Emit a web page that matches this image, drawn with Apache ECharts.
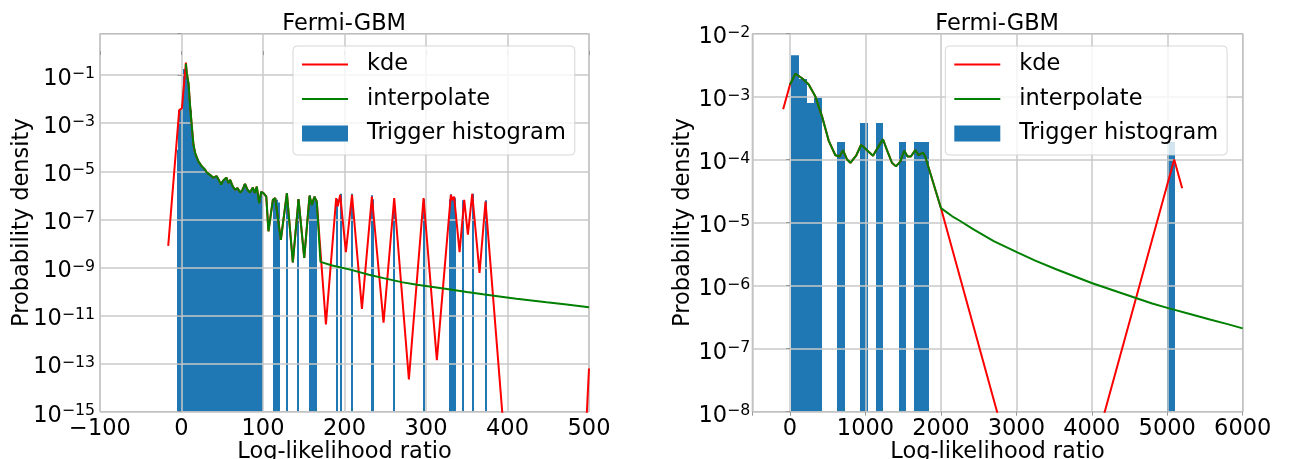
<!DOCTYPE html>
<html>
<head>
<meta charset="utf-8">
<script src="https://cdn.jsdelivr.net/npm/echarts@6/dist/echarts.min.js"></script>
<style>
html,body{margin:0;padding:0;background:#fff;}
#chart{width:1290px;height:459px;}
</style>
</head>
<body>
<div id="chart"></div>
<script>
// ---------------- DATA ----------------
const titles = ['Fermi-GBM', 'Fermi-GBM'];
const xAxisName = 'Log-likelihood ratio';
const yAxisName = 'Probability density';
const seriesNames = ['kde', 'interpolate', 'Trigger histogram'];

// Left panel: x from -100 to 500, density from 1e-15 upward
const leftXTicks = [-100, 0, 100, 200, 300, 400, 500];
const leftYExpTicks = [-15, -13, -11, -9, -7, -5, -3, -1];
const leftBinWidth = 2;
const leftHistEdges = [-6,-4,-2,0,2,4,6,8,10,12,14,16,18,20,22,24,26,28,30,32,34,36,38,40,42,44,46,48,50,52,54,56,58,60,62,64,66,68,70,72,74,76,78,80,82,84,86,88,90,92,94,96,98,
  112,114,116,118,128,142,156,158,160,162,164,190,194,208,232,234,260,296,328,330,332,334,344,356,372];
const leftHistDensity = [7.9e-5,3.5e-3,4.0e-3,2.5e-2,0.18,0.32,8.9e-2,2.5e-2,3.5e-3,5.6e-4,1.1e-4,5.4e-5,3.5e-5,2.5e-5,2.0e-5,1.6e-5,1.3e-5,1.15e-5,9.5e-6,7.9e-6,7.6e-6,6.3e-6,5.4e-6,6.0e-6,6.3e-6,4.5e-6,3.0e-6,3.8e-6,4.0e-6,4.5e-6,5.4e-6,3.3e-6,4.4e-6,3.2e-6,2.3e-6,1.8e-6,1.9e-6,2.0e-6,1.4e-6,1.5e-6,1.8e-6,2.8e-6,2.5e-6,1.7e-6,1.4e-6,1.6e-6,2.1e-6,1.4e-6,2.0e-6,2.2e-6,5.0e-7,1.4e-6,1.26e-6,
  6.0e-7,7.6e-7,6.6e-7,5.0e-7,1.23e-6,6.9e-7,1.0e-6,5.0e-7,5.0e-7,8.9e-7,5.6e-7,7.1e-7,1.15e-6,1.15e-6,1.0e-6,6.9e-7,6.9e-7,6.9e-7,6.9e-7,1.1e-6,6.9e-7,7.9e-7,6.3e-7,1.15e-6,6.3e-7];

const leftInterpX = [5.3,6.5,8.6,10.6,12.7,14.7,16.8,20.9,25,29,31,35,39,43,46,48.5,51,53,55,57.7,59.7,63,66,68.7,72,74.8,78,81,84,87.5,90,92.4,95.3,97.8,100.6,104,106.7,112.1,115,117,121.9,129.3,136.6,143.6,150.6,157.1,160,163,166,170.5,
  185,207,230,248,270,289,330,350,370,390,411,448,470,500];
const leftInterpY = [0.30,0.117,4.5e-2,4.9e-3,7.2e-4,1.26e-4,5.6e-5,2.5e-5,1.6e-5,1.15e-5,8.9e-6,7.1e-6,5.4e-6,6.3e-6,4.2e-6,2.8e-6,4.0e-6,3.5e-6,5.4e-6,3.2e-6,4.4e-6,2.3e-6,1.7e-6,2.0e-6,1.3e-6,1.7e-6,3.0e-6,1.7e-6,1.3e-6,2.1e-6,1.26e-6,2.3e-6,4.7e-7,1.4e-6,1.23e-6,8.9e-7,3.2e-8,6.5e-7,7.6e-7,6.3e-7,1.4e-8,1.23e-6,1.6e-9,6.9e-7,2.5e-9,9.5e-7,4.0e-7,8.7e-7,5.5e-7,1.7e-9,
  1.2e-9,8.1e-10,5.0e-10,3.6e-10,2.45e-10,1.9e-10,1.2e-10,9.5e-11,7.6e-11,6.2e-11,5.0e-11,3.55e-11,2.95e-11,2.2e-11];

const leftKdeX = [-16.3,-2.8,0.5,5.4,6.5,8.6,10.6,12.7,14.7,16.8,20.9,25,29,31,35,39,43,46,48.5,51,53,55,57.7,59.7,63,66,68.7,72,74.8,78,81,84,87.5,90,92.4,95.3,97.8,100.6,104,106.7,112.1,115,117,121.9,129.3,136.6,143.6,150.6,157.1,160,163,166,
  177.2,189.8,191.8,194.7,201.7,209.2,221.4,233.6,247.9,261,279,297,313.3,330.5,332.6,334.5,341.2,346.9,351.4,356.7,365.7,373,393.5,430,470,497.4,500];
const leftKdeY = [7.9e-9,3.5e-3,4.2e-3,0.33,0.117,4.5e-2,4.9e-3,7.2e-4,1.26e-4,5.6e-5,2.5e-5,1.6e-5,1.15e-5,8.9e-6,7.1e-6,5.4e-6,6.3e-6,4.2e-6,2.8e-6,4.0e-6,3.5e-6,5.4e-6,3.2e-6,4.4e-6,2.3e-6,1.7e-6,2.0e-6,1.3e-6,1.7e-6,3.0e-6,1.7e-6,1.3e-6,2.1e-6,1.26e-6,2.3e-6,4.7e-7,1.4e-6,1.23e-6,8.9e-7,3.2e-8,6.5e-7,7.6e-7,6.3e-7,1.4e-8,1.23e-6,1.6e-9,6.9e-7,2.5e-9,9.5e-7,4.0e-7,8.7e-7,5.5e-7,
  4.3e-12,7.6e-7,3.5e-7,1.05e-6,4.3e-9,1.05e-6,1.9e-11,8.9e-7,5.0e-12,7.6e-7,2.2e-14,7.6e-7,1.4e-13,1.05e-6,6.3e-7,8.9e-7,4.3e-9,6.5e-7,2.3e-8,1.15e-6,5.9e-10,5.5e-7,1e-15,1e-21,1e-21,1e-15,6.3e-14];

// Right panel: x from -500 to 6000, density 1e-8 .. 1e-2
const rightXTicks = [0, 1000, 2000, 3000, 4000, 5000, 6000];
const rightYExpTicks = [-8, -7, -6, -5, -4, -3, -2];
const rightBinWidth = 101.6;
const rightHistEdges = [18, 119.6, 221.2, 322.8, 627.6, 932.4, 1135.6, 1440.4, 1643.6, 1745.2, 4996];
const rightHistDensity = [4.5e-3, 1.9e-3, 7.9e-4, 9.6e-4, 1.9e-4, 3.8e-4, 3.8e-4, 1.9e-4, 1.9e-4, 1.9e-4, 1.9e-4];

const rightInterpX = [0,71,160,248,336,425,512,601,658,703,756,800,879,941,976,1020,1100,1174,1232,1285,1351,1404,1461,1514,1558,1602,1660,1704,1761,1792,
  2000,2150,2250,2432,2700,3006,3250,3535,3998,4300,4594,4800,5013,5300,5565,5800,6000];
const rightInterpY = [1.55e-3,2.3e-3,1.95e-3,1.55e-3,1.0e-3,4.8e-4,2.0e-4,1.17e-4,1.12e-4,1.41e-4,1.0e-4,8.9e-5,1.17e-4,1.7e-4,1.58e-4,1.41e-4,1.15e-4,1.62e-4,2.1e-4,1.41e-4,8.9e-5,7.8e-5,9.3e-5,1.38e-4,1.12e-4,1.12e-4,1.41e-4,1.17e-4,1.29e-4,1.12e-4,
  1.7e-5,1.26e-5,1.07e-5,7.8e-6,5.1e-6,3.4e-6,2.5e-6,1.8e-6,1.1e-6,8.3e-7,6.3e-7,5.2e-7,4.4e-7,3.55e-7,2.9e-7,2.45e-7,2.1e-7];

const rightKdeX = [-91,0,71,160,248,336,425,512,601,658,703,756,800,879,941,976,1020,1100,1174,1232,1285,1351,1404,1461,1514,1558,1602,1660,1704,1761,1792,2000,3458,5092,5198];
const rightKdeY = [6.3e-4,1.55e-3,2.3e-3,1.95e-3,1.55e-3,1.0e-3,4.8e-4,2.0e-4,1.17e-4,1.12e-4,1.41e-4,1.0e-4,8.9e-5,1.17e-4,1.7e-4,1.58e-4,1.41e-4,1.15e-4,1.62e-4,2.1e-4,1.41e-4,8.9e-5,7.8e-5,9.3e-5,1.38e-4,1.12e-4,1.12e-4,1.41e-4,1.17e-4,1.29e-4,1.12e-4,1.7e-5,7.9e-12,1.0e-4,3.5e-5];

// ---------------- STYLE / LAYOUT ----------------
const FONT = 'DejaVu Sans';
const FS = 22.5;
const COL_KDE = '#ff0000', COL_INT = '#008000', COL_HIST = '#1f77b4';
const GRID_COL = '#c8c8c8', SPINE_COL = '#9a9a9a';

const leftY = {min: -15, max: 0.73};
const rightY = {min: -8, max: -2};

const lg = v => Math.log10(v);
const pairs = (xs, ys) => xs.map((x, i) => [x, lg(ys[i])]);
const bins = (edges, w, dens) => edges.map((e, i) => [e, e + w, lg(dens[i])]);
const minus = s => String(s).replace('-', '\u2212');

function powLabel(v) {
  if (Math.abs(v - Math.round(v)) > 1e-6) return '';
  const e = Math.round(v);
  return '{b|10}{s|' + minus(e) + '}';
}

function makeHist(gridIdx, data, yBottom) {
  return {
    type: 'custom', name: 'Trigger histogram', xAxisIndex: gridIdx, yAxisIndex: gridIdx,
    z: 1, clip: true, silent: true,
    itemStyle: {color: COL_HIST},
    encode: {x: [0, 1], y: 2},
    data: data,
    renderItem: function (params, api) {
      const p0 = api.coord([api.value(0), api.value(2)]);
      const p1 = api.coord([api.value(1), yBottom]);
      // snap horizontal edges to whole pixels so neighbouring bins join without seams
      const xa = Math.round(p0[0]);
      const xb = Math.max(xa + 2, Math.round(p1[0]));
      return {type: 'rect', shape: {x: xa, y: p0[1], width: xb - xa, height: p1[1] - p0[1]},
              style: {fill: COL_HIST}};
    }
  };
}
function makeLine(gridIdx, name, data, color, z) {
  return {type: 'line', name: name, xAxisIndex: gridIdx, yAxisIndex: gridIdx, data: data,
    symbol: 'none', showSymbol: false, clip: true, z: z, silent: true,
    lineStyle: {color: color, width: 2}, itemStyle: {color: color}};
}

const axisCommon = {
  z: 2,
  axisLine: {show: false},
  axisTick: {show: true, length: 4, lineStyle: {color: SPINE_COL, width: 1}},
  splitLine: {show: true, lineStyle: {color: GRID_COL, width: 1.5}},
  nameTextStyle: {fontSize: FS, fontFamily: FONT, color: '#000'},
  nameLocation: 'middle',
  nameMoveOverlap: false
};
const richLab = {
  b: {fontSize: FS, fontFamily: FONT, color: '#000', lineHeight: 26},
  s: {fontSize: 15.75, fontFamily: FONT, color: '#000', lineHeight: 15, verticalAlign: 'top'}
};

function legendFor(left) {
  return {
    orient: 'vertical', left: left, top: 46, z: 6, selectedMode: false,
    data: [
      {name: 'kde', itemStyle: {opacity: 0}},
      {name: 'interpolate', itemStyle: {opacity: 0}},
      {name: 'Trigger histogram', icon: 'rect'}
    ],
    itemWidth: 46, itemHeight: 16, itemGap: 11.5,
    padding: [7, 9, 10, 8],
    backgroundColor: 'rgba(255,255,255,0.8)',
    borderColor: 'rgba(204,204,204,0.8)', borderWidth: 1, borderRadius: 4,
    textStyle: {fontSize: FS, fontFamily: FONT, color: '#000', lineHeight: 22, padding: [0, 0, 0, 14]}
  };
}

const gridCommon = {show: true, z: 2, backgroundColor: 'transparent', borderColor: SPINE_COL, borderWidth: 1,
  containLabel: false, outerBoundsMode: 'none'};

const option = {
  animation: false,
  backgroundColor: '#fff',
  textStyle: {fontFamily: FONT},
  title: [
    {text: titles[0], left: 282.2, top: 13, padding: 0, textStyle: {fontSize: FS, fontWeight: 'normal', fontFamily: FONT, color: '#000'}},
    {text: titles[1], left: 935.2, top: 13, padding: 0, textStyle: {fontSize: FS, fontWeight: 'normal', fontFamily: FONT, color: '#000'}}
  ],
  legend: [legendFor(293), legendFor(945.3)],
  grid: [
    Object.assign({left: 100, top: 33.5, width: 489, height: 378.2}, gridCommon),
    Object.assign({left: 752.3, top: 33.5, width: 490.4, height: 378.2}, gridCommon)
  ],
  xAxis: [
    Object.assign({}, axisCommon, {
      type: 'value', gridIndex: 0, min: leftXTicks[0], max: leftXTicks[leftXTicks.length - 1], interval: 100,
      name: xAxisName, nameGap: 29,
      axisLabel: {fontSize: FS, fontFamily: FONT, color: '#000', margin: 6, formatter: v => minus(v)}
    }),
    Object.assign({}, axisCommon, {
      type: 'value', gridIndex: 1, min: -500, max: rightXTicks[rightXTicks.length - 1], splitNumber: 6,
      minInterval: 1000, maxInterval: 1000,
      name: xAxisName, nameGap: 29,
      axisLabel: {fontSize: FS, fontFamily: FONT, color: '#000', margin: 6,
        formatter: v => (rightXTicks.indexOf(v) >= 0 ? minus(v) : '')}
    })
  ],
  yAxis: [
    Object.assign({}, axisCommon, {
      type: 'value', gridIndex: 0, min: leftY.min, max: leftY.max, interval: 2,
      name: yAxisName, nameGap: 66,
      axisLabel: {margin: 5, padding: [8, 0, 0, 0], formatter: v => (leftYExpTicks.indexOf(Math.round(v)) >= 0 ? powLabel(v) : ''), rich: richLab}
    }),
    Object.assign({}, axisCommon, {
      type: 'value', gridIndex: 1, min: rightY.min, max: rightY.max, interval: 1,
      name: yAxisName, nameGap: 58,
      axisLabel: {margin: 2, padding: [8, 0, 0, 0], formatter: v => (rightYExpTicks.indexOf(Math.round(v)) >= 0 ? powLabel(v) : ''), rich: richLab}
    })
  ],
  series: [
    makeHist(0, bins(leftHistEdges, leftBinWidth, leftHistDensity), leftY.min),
    makeLine(0, seriesNames[0], pairs(leftKdeX, leftKdeY), COL_KDE, 3),
    makeLine(0, seriesNames[1], pairs(leftInterpX, leftInterpY), COL_INT, 4),
    makeHist(1, bins(rightHistEdges, rightBinWidth, rightHistDensity), rightY.min),
    makeLine(1, seriesNames[0], pairs(rightKdeX, rightKdeY), COL_KDE, 3),
    makeLine(1, seriesNames[1], pairs(rightInterpX, rightInterpY), COL_INT, 4)
  ]
};

const chart = echarts.init(document.getElementById('chart'), null, {renderer: 'canvas', devicePixelRatio: 1, width: 1290, height: 459});
chart.setOption(option);
</script>
</body>
</html>
